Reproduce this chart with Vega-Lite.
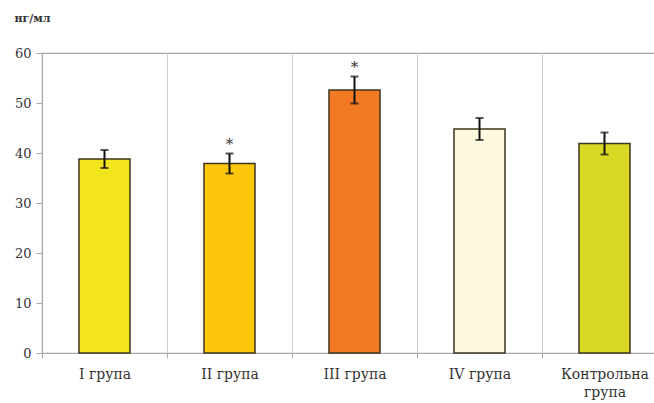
{
  "$schema": "https://vega.github.io/schema/vega-lite/v6.json",
  "width": 625,
  "height": 300,
  "autosize": {"type": "none"},
  "padding": {"left": 42, "top": 53, "right": -13, "bottom": 50},
  "background": "white",
  "config": {
    "font": "DejaVu Serif",
    "view": {"stroke": "#a8a8a8", "strokeWidth": 1.2}
  },
  "data": {
    "values": [
      {"group": "I група", "value": 38.8, "err": 1.8, "star": ""},
      {"group": "II група", "value": 37.9, "err": 2.0, "star": "*"},
      {"group": "III група", "value": 52.6, "err": 2.7, "star": "*"},
      {"group": "IV група", "value": 44.8, "err": 2.2, "star": ""},
      {"group": "Контрольна група", "value": 41.9, "err": 2.2, "star": ""}
    ]
  },
  "encoding": {
    "x": {
      "field": "group",
      "type": "nominal",
      "sort": null,
      "scale": {"paddingInner": 0, "paddingOuter": 0},
      "axis": {
        "title": null,
        "labelAngle": 0,
        "labelFont": "DejaVu Serif",
        "labelFontSize": 14,
        "labelColor": "#333333",
        "tickBand": "extent",
        "grid": true,
        "gridColor": "#cfcfcf",
        "gridWidth": 1,
        "domainColor": "#a8a8a8",
        "tickColor": "#a8a8a8",
        "tickSize": 5,
        "labelPadding": 9,
        "labelLineHeight": 18,
        "labelExpr": "datum.value == 'Контрольна група' ? ['Контрольна', 'група'] : datum.value"
      }
    }
  },
  "layer": [
    {
      "mark": {"type": "bar", "size": 51, "stroke": "#3d3520", "strokeWidth": 1.5},
      "encoding": {
        "y": {
          "field": "value",
          "type": "quantitative",
          "title": "нг/мл",
          "scale": {"domain": [0, 60]},
          "axis": {
            "titleAngle": 0,
            "titleAlign": "left",
            "titleBaseline": "middle",
            "titleX": -28,
            "titleY": -35,
            "titleFont": "DejaVu Serif",
            "titleFontSize": 11,
            "titleFontWeight": "bold",
            "titleColor": "#333333",
            "labelFont": "DejaVu Serif",
            "labelFontSize": 13,
            "labelColor": "#333333",
            "values": [0, 10, 20, 30, 40, 50, 60],
            "grid": false,
            "domainColor": "#a8a8a8",
            "tickColor": "#a8a8a8",
            "tickSize": 6,
            "labelPadding": 5
          }
        },
        "color": {
          "field": "group",
          "type": "nominal",
          "legend": null,
          "scale": {
            "domain": ["I група", "II група", "III група", "IV група", "Контрольна група"],
            "range": ["#f3e51c", "#fdc80c", "#f27a22", "#fdfae0", "#d9d923"]
          }
        }
      }
    },
    {
      "mark": {
        "type": "errorbar",
        "ticks": {"size": 8, "thickness": 2, "color": "#111111"},
        "rule": {"strokeWidth": 2, "color": "#111111"}
      },
      "encoding": {
        "y": {"field": "value", "type": "quantitative", "title": "нг/мл"},
        "yError": {"field": "err"}
      }
    },
    {
      "transform": [
        {"filter": "datum.star != ''"},
        {"calculate": "datum.value + datum.err", "as": "hi"}
      ],
      "mark": {"type": "text", "font": "DejaVu Serif", "fontSize": 15, "dy": -10, "baseline": "middle", "color": "#333333"},
      "encoding": {
        "y": {"field": "hi", "type": "quantitative", "title": "нг/мл"},
        "text": {"field": "star"}
      }
    }
  ]
}
